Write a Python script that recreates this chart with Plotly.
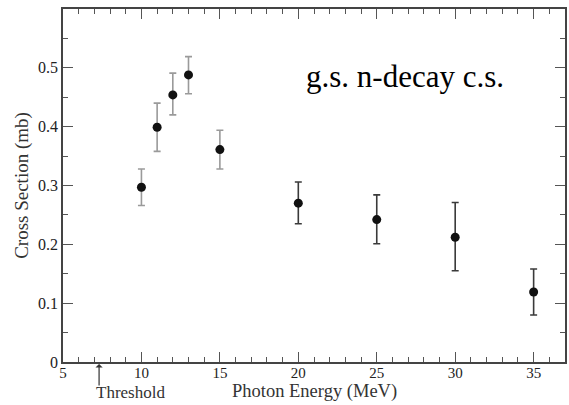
import plotly.graph_objects as go

energy = [10, 11, 12, 13, 15, 20, 25, 30, 35]
cross_section = [0.297, 0.399, 0.454, 0.488, 0.361, 0.270, 0.242, 0.212, 0.119]
err_plus = [0.031, 0.041, 0.037, 0.031, 0.033, 0.036, 0.042, 0.059, 0.039]
err_minus = [0.031, 0.041, 0.034, 0.032, 0.033, 0.035, 0.041, 0.057, 0.039]
y_tick_vals = [0, 0.1, 0.2, 0.3, 0.4, 0.5]
y_tick_text = ["0", "0.1", "0.2", "0.3", "0.4", "0.5"]
threshold = 7.3

serif = "Liberation Serif"
n_light = 5

fig = go.Figure()
groups = [(slice(0, n_light), "#9a9a9a"), (slice(n_light, None), "#3a3a3a")]
for sl, col in groups:
    fig.add_trace(go.Scatter(
        x=energy[sl], y=cross_section[sl], mode="markers",
        marker=dict(color="#111111", size=9),
        error_y=dict(type="data", symmetric=False, array=err_plus[sl],
                     arrayminus=err_minus[sl], color=col, thickness=1.6, width=3.5),
        showlegend=False,
    ))

axis_common = dict(
    showgrid=False, zeroline=False, showline=True, linecolor="#444444", linewidth=1.5,
    mirror="ticks", ticks="inside", ticklen=10, tickwidth=1.2, tickcolor="#555555",
    tickfont=dict(family=serif, size=16, color="#222222"),
)

fig.update_xaxes(
    range=[5, 37], tick0=5, dtick=5,
    minor=dict(dtick=1, ticks="inside", ticklen=5, tickcolor="#555555", tickwidth=1.2),
    ticklabelstandoff=-4,
    **axis_common,
)
fig.update_xaxes(tickfont=dict(size=15))
fig.update_yaxes(
    range=[0, 0.6], tickmode="array", tickvals=y_tick_vals, ticktext=y_tick_text,
    minor=dict(dtick=0.05, tick0=0, ticks="inside", ticklen=5, tickcolor="#555555", tickwidth=1.2),
    title=dict(text="Cross Section (mb)", font=dict(family=serif, size=19, color="#333333"), standoff=4),
    **axis_common,
)

# x-axis title placed explicitly to keep it clear of the tick labels
fig.add_annotation(x=0.5, y=-0.12, xref="paper", yref="paper", text="Photon Energy (MeV)",
                   showarrow=False, xanchor="center", yanchor="bottom",
                   font=dict(family=serif, size=18.5, color="#333333"))

fig.add_annotation(x=threshold, y=0, xref="x", yref="paper", text="", showarrow=True,
                   ax=0, ay=25, arrowhead=1, arrowsize=1, arrowwidth=1.2,
                   arrowcolor="#333333", standoff=2)
fig.add_annotation(x=7.0, y=-0.118, xref="x", yref="paper", text="Threshold",
                   showarrow=False, xanchor="left", yanchor="bottom",
                   font=dict(family=serif, size=17, color="#333333"))
fig.add_annotation(x=0.681, y=0.81, xref="paper", yref="paper", text="g.s. n-decay c.s.",
                   showarrow=False, xanchor="center", yanchor="middle",
                   font=dict(family=serif, size=31, color="#000000"))

fig.update_layout(
    width=569, height=405,
    margin=dict(l=63, r=2, t=9, b=43),
    plot_bgcolor="white", paper_bgcolor="white",
)

fig.write_html("out.html")
